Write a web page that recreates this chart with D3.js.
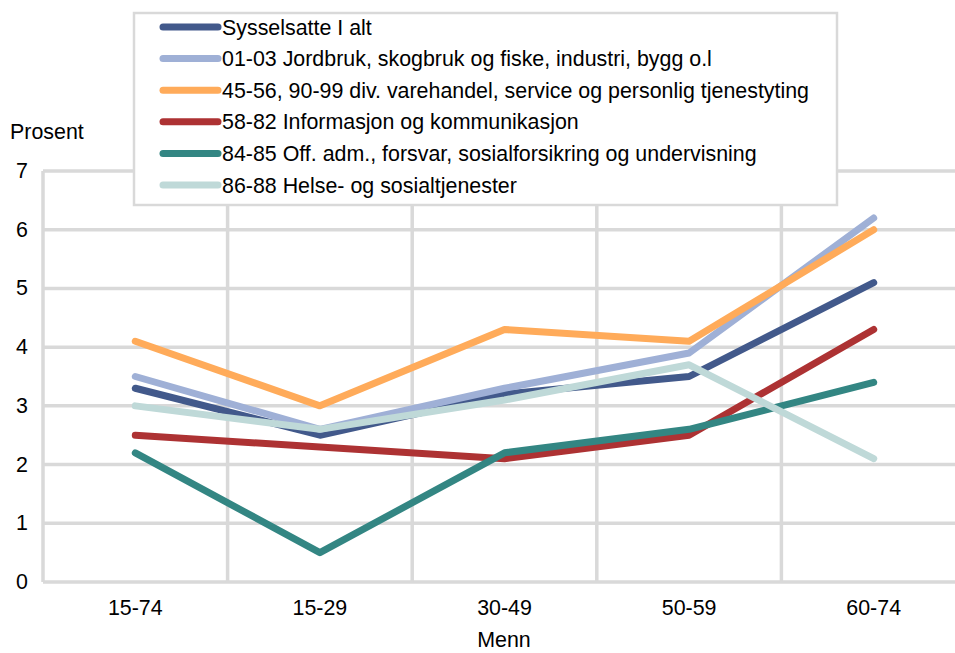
<!DOCTYPE html>
<html>
<head>
<meta charset="utf-8">
<script src="https://cdn.jsdelivr.net/npm/d3@7"></script>
<style>
  body { margin: 0; background: #fff; }
  svg { display: block; font-family: "Liberation Sans", Arial, sans-serif; }
</style>
</head>
<body>
<svg id="chart" width="955" height="653"></svg>
<script>
const d3 = window.d3

const ageGroups = ['15-74', '15-29', '30-49', '50-59', '60-74']
const seriesNames = [
  'Sysselsatte I alt',
  '01-03 Jordbruk, skogbruk og fiske, industri, bygg o.l',
  '45-56, 90-99 div. varehandel, service og personlig tjenestyting',
  '58-82 Informasjon og kommunikasjon',
  '84-85 Off. adm., forsvar, sosialforsikring og undervisning',
  '86-88 Helse- og sosialtjenester'
]
const totalValues = [3.3, 2.5, 3.2, 3.5, 5.1]
const primaryValues = [3.5, 2.6, 3.3, 3.9, 6.2]
const tradeValues = [4.1, 3.0, 4.3, 4.1, 6.0]
const infoValues = [2.5, 2.3, 2.1, 2.5, 4.3]
const publicValues = [2.2, 0.5, 2.2, 2.6, 3.4]
const healthValues = [3.0, 2.6, 3.1, 3.7, 2.1]
const yTicks = [0, 1, 2, 3, 4, 5, 6, 7]
const colors = ['#42598b', '#9fb0d6', '#ffab5a', '#ad3233', '#338683', '#bfd9d8']

const series = [totalValues, primaryValues, tradeValues, infoValues, publicValues, healthValues]
  .map((values, i) => ({name: seriesNames[i], color: colors[i], values}))

const svg = d3.select('#chart')
const plotLeft = 43
const plotRight = 966
const plotTop = 171
const plotBottom = 582
const grid = '#d9d9d9'
const fontSize = '21.4px'

const x = d3.scaleBand().domain(ageGroups).range([plotLeft, plotRight])
const y = d3.scaleLinear().domain([0, 7]).range([plotBottom, plotTop])

// gridlines
svg.append('g').selectAll('line').data(yTicks).enter().append('line')
  .attr('x1', plotLeft).attr('x2', plotRight)
  .attr('y1', d => y(d)).attr('y2', d => y(d))
  .style('stroke', grid).style('stroke-width', 3.5)

svg.append('g').selectAll('line').data(ageGroups).enter().append('line')
  .attr('x1', d => x(d)).attr('x2', d => x(d))
  .attr('y1', plotTop).attr('y2', plotBottom)
  .style('stroke', grid).style('stroke-width', 3.5)

// y axis labels
svg.append('g').selectAll('text').data(yTicks).enter().append('text')
  .attr('x', 28).attr('y', d => y(d) + 7)
  .attr('text-anchor', 'end')
  .style('font-size', fontSize).style('fill', '#000')
  .text(d => d)

svg.append('text').attr('x', 10).attr('y', 139)
  .style('font-size', fontSize).text('Prosent')

// x axis labels
svg.append('g').selectAll('text').data(ageGroups).enter().append('text')
  .attr('x', d => x(d) + x.bandwidth() / 2).attr('y', 615)
  .attr('text-anchor', 'middle')
  .style('font-size', fontSize)
  .text(d => d)

svg.append('text').attr('x', 504).attr('y', 647)
  .attr('text-anchor', 'middle')
  .style('font-size', fontSize).text('Menn')

// lines
const line = d3.line()
  .x((d, i) => x(ageGroups[i]) + x.bandwidth() / 2)
  .y(d => y(d))

svg.append('g').selectAll('path').data(series).enter().append('path')
  .attr('d', d => line(d.values))
  .style('fill', 'none')
  .style('stroke', d => d.color)
  .style('stroke-width', 7)
  .style('stroke-linecap', 'round')
  .style('stroke-linejoin', 'round')

// legend
const legend = svg.append('g')
legend.append('rect')
  .attr('x', 134).attr('y', 13).attr('width', 703).attr('height', 192)
  .style('fill', '#fff').style('stroke', grid).style('stroke-width', 2.5)

const rows = legend.selectAll('g.row').data(series).enter().append('g')
  .attr('transform', (d, i) => `translate(0, ${27 + i * 31.6})`)

rows.append('line')
  .attr('x1', 163).attr('x2', 218).attr('y1', 0).attr('y2', 0)
  .style('stroke', d => d.color).style('stroke-width', 7)
  .style('stroke-linecap', 'round')

rows.append('text')
  .attr('x', 222).attr('y', 7.5)
  .style('font-size', fontSize)
  .text(d => d.name)
</script>
</body>
</html>
